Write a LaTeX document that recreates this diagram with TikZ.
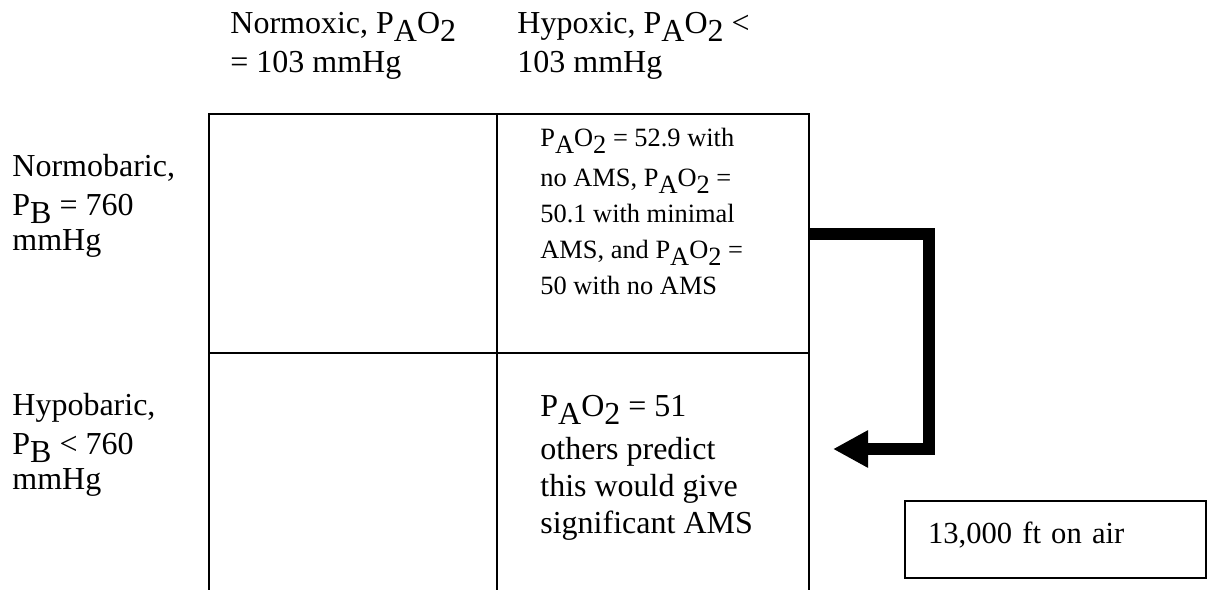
\documentclass[tikz,border=0pt]{standalone}
\usepackage{fontspec}
\setmainfont{Liberation Serif}
\usetikzlibrary{arrows.meta}
% full-size letters dropped below the baseline, as in P_A O_2
\newcommand{\lowsub}[1]{\raisebox{-0.27em}{#1}}
\newcommand{\PAO}{P\lowsub{A}O\lowsub{2}}
\begin{document}
\begin{tikzpicture}[x=0.5pt,y=-0.5pt,
  gridline/.style={line width=1pt},
  cellbox/.style={draw, line width=1pt, inner sep=0pt},
  % multi-line texts are placed by the baseline of their last line
  bigtext/.style={font=\fontsize{16}{18.5}\selectfont, align=left, anchor=base west, inner sep=0pt},
  smalltext/.style={font=\fontsize{13.2}{18}\selectfont, align=left, anchor=base west, inner sep=0pt},
  bigarrow/.style={line width=6pt, line join=miter, -{Triangle[length=17.5pt,width=17.5pt]}},
  notebox/.style={draw, line width=1pt, anchor=north west, inner xsep=11.5pt, inner ysep=4pt,
    text width=127.5pt, align=left, text height=17pt, text depth=13.5pt,
    font=\fontsize{15.3}{18.5}\selectfont}
]
\useasboundingbox (0,0) rectangle (1212,590);

% column headings
\node[bigtext] (normoxic) at (230,72) {Normoxic, \PAO\\[1pt]= 103 mmHg};
\node[bigtext] (hypoxic) at (517,72) {Hypoxic, \PAO{} <\\[1pt]103 mmHg};

% row headings
\node[bigtext] (normobaric) at (12,250) {Normobaric,\\[1pt]P\lowsub{B} = 760\\[-1pt]mmHg};
\node[bigtext] (hypobaric) at (12,489) {Hypobaric,\\[1pt]P\lowsub{B} < 760\\[-1pt]mmHg};

% upper row of the table
\node[cellbox, minimum width=144pt, minimum height=119.5pt] (tl) at (353,233.5) {};
\node[cellbox, minimum width=156pt, minimum height=119.5pt] (tr) at (653,233.5) {};

% lower row, open at the foot
\draw[gridline] (209,353) -- (209,590);
\draw[gridline] (497,353) -- (497,590);
\draw[gridline] (809,353) -- (809,590);

% cell texts
\node[smalltext] (trtext) at (540,294)
  {\PAO{} = 52.9 with\\[2pt]no AMS, \PAO{} =\\50.1 with minimal\\AMS, and \PAO{} =\\50 with no AMS};
\node[bigtext] (brtext) at (540,533)
  {\PAO{} = 51\\[3pt]others predict\\this would give\\significant AMS};

% the elbow arrow
\coordinate (bend) at (929,449);
\coordinate (tip) at (833,449);
\draw[bigarrow] (tr.east) -| (bend) -- (tip);

% side note
\node[notebox] (air) at (904,500) {\mbox{13,000 ft on air}};
\end{tikzpicture}
\end{document}
